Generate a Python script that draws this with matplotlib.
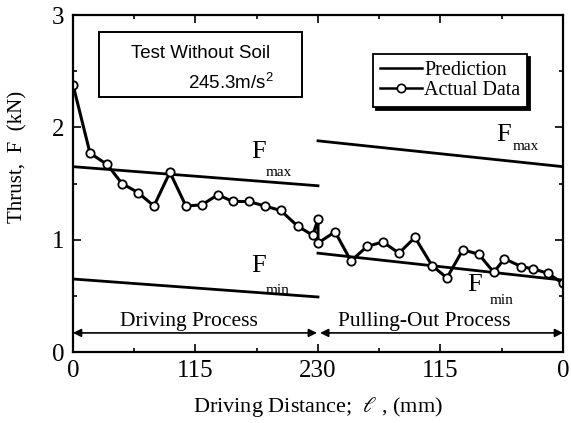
import numpy as np
import matplotlib.pyplot as plt
from matplotlib.patches import Rectangle
from matplotlib.lines import Line2D

plt.rcParams['font.family'] = 'serif'
plt.rcParams['font.serif'] = ['Liberation Serif', 'DejaVu Serif']
plt.rcParams['mathtext.fontset'] = 'stix'

# driving process: distance (mm) and thrust (kN)
drive_dist = [0, 16, 32, 46, 61, 76, 91, 106, 121, 136, 150, 165, 180, 195, 211, 225, 230]
drive_thrust = [2.38, 1.77, 1.67, 1.50, 1.42, 1.30, 1.60, 1.30, 1.31, 1.40, 1.34, 1.34,
                1.30, 1.26, 1.12, 1.04, 1.18]

# pulling-out process: remaining distance (mm) counts down 230 -> 0
pull_dist = [230, 214, 199, 184, 169, 154, 139, 123, 109, 94, 79, 65, 55, 39, 28, 14, 0]
pull_thrust = [0.97, 1.07, 0.81, 0.94, 0.98, 0.88, 1.02, 0.77, 0.66, 0.91, 0.87, 0.71,
               0.83, 0.76, 0.74, 0.70, 0.61]

# prediction lines (start/end values)
drive_fmax = [1.65, 1.48]
drive_fmin = [0.65, 0.49]
pull_fmax = [1.88, 1.65]
pull_fmin = [0.88, 0.64]

xtick_pos = [0, 115, 230, 345, 460]
xtick_labels = ['0', '115', '230', '115', '0']

fig = plt.figure(figsize=(5.71, 4.23), dpi=100)
ax = fig.add_axes([0.1278, 0.1678, 0.8582, 0.7967])

# convert pulling-out distance into plot position
pull_pos = [460 - d for d in pull_dist]

# prediction
ax.plot([0, 230], drive_fmax, color='black', lw=2)
ax.plot([0, 230], drive_fmin, color='black', lw=2)
ax.plot([230, 460], pull_fmax, color='black', lw=2)
ax.plot([230, 460], pull_fmin, color='black', lw=2)

# actual data
x_all = drive_dist + pull_pos
y_all = drive_thrust + pull_thrust
ax.plot(x_all, y_all, color='black', lw=2.2, marker='o', markersize=6,
        markerfacecolor='white', markeredgecolor='black', markeredgewidth=1.3)

ax.set_xlim(0, 460)
ax.set_ylim(0, 3)
ax.set_xticks(xtick_pos)
ax.set_xticklabels(xtick_labels)
ax.set_xticks(np.arange(0, 461, 57.5), minor=True)
ax.set_yticks([0, 1, 2, 3])
ax.set_yticks(np.arange(0, 3.01, 0.5), minor=True)
ax.tick_params(which='both', direction='in', top=True, right=True, labelsize=18, width=1.2)
ax.tick_params(which='major', length=6, pad=6)
ax.tick_params(which='minor', length=3)
for s in ax.spines.values():
    s.set_linewidth(1.6)

ax.set_xlabel('Driving Distance;  $\\ell$ , (mm)', fontsize=16, labelpad=9)
fig.text(0.032, 0.63, 'Thrust,  F  (kN)', rotation=90, fontsize=15, ha='center', va='center')

# F labels
for (fx, fy, sx, sy, sub) in [(174, 1.78, 193, 1.60, 'max'), (174, 0.77, 192, 0.55, 'min'),
                              (404, 1.93, 425, 1.83, 'max'), (377, 0.60, 402, 0.46, 'min')]:
    ax.text(fx, fy, 'F', fontsize=19, ha='center', va='center')
    ax.text(sx, sy, sub, fontsize=11, ha='center', va='center')

# process arrows
ax.annotate('', xy=(0, 0.17), xytext=(229, 0.17),
            arrowprops=dict(arrowstyle='<|-|>', color='black', lw=1.2,
                            mutation_scale=12, shrinkA=0, shrinkB=0))
ax.annotate('', xy=(232, 0.17), xytext=(460, 0.17),
            arrowprops=dict(arrowstyle='<|-|>', color='black', lw=1.2,
                            mutation_scale=12, shrinkA=0, shrinkB=0))
ax.text(109, 0.27, 'Driving Process', fontsize=15.5, ha='center', va='center')
ax.text(330, 0.27, 'Pulling-Out Process', fontsize=15.5, ha='center', va='center')

# test condition box
ax.add_patch(Rectangle((0.053, 0.757), 0.414, 0.193, transform=ax.transAxes,
                       fill=False, edgecolor='black', lw=1.4))
ax.text(0.26, 0.885, 'Test Without Soil', transform=ax.transAxes, fontsize=13.5,
        family='Liberation Sans', ha='center', va='center')
ax.text(0.235, 0.8, '245.3m/s$^{\\mathregular{2}}$', transform=ax.transAxes, fontsize=13.5,
        family='Liberation Sans', ha='left', va='center')

# legend
handles = [Line2D([], [], color='black', lw=1.8),
           Line2D([], [], color='black', lw=1.8, marker='o', markersize=6,
                  markerfacecolor='white', markeredgewidth=1.2)]
leg = ax.legend(handles, ['Prediction', 'Actual Data'], loc='upper left',
                bbox_to_anchor=(0.612, 0.885), fontsize=14.5, frameon=True, fancybox=False,
                edgecolor='black', framealpha=1, handlelength=2.1, handletextpad=0.1,
                labelspacing=0.05, borderpad=0.35, borderaxespad=0,
                shadow={'color': 'black', 'alpha': 1})
leg.get_frame().set_linewidth(1.3)

fig.savefig('out.png', dpi=100)
